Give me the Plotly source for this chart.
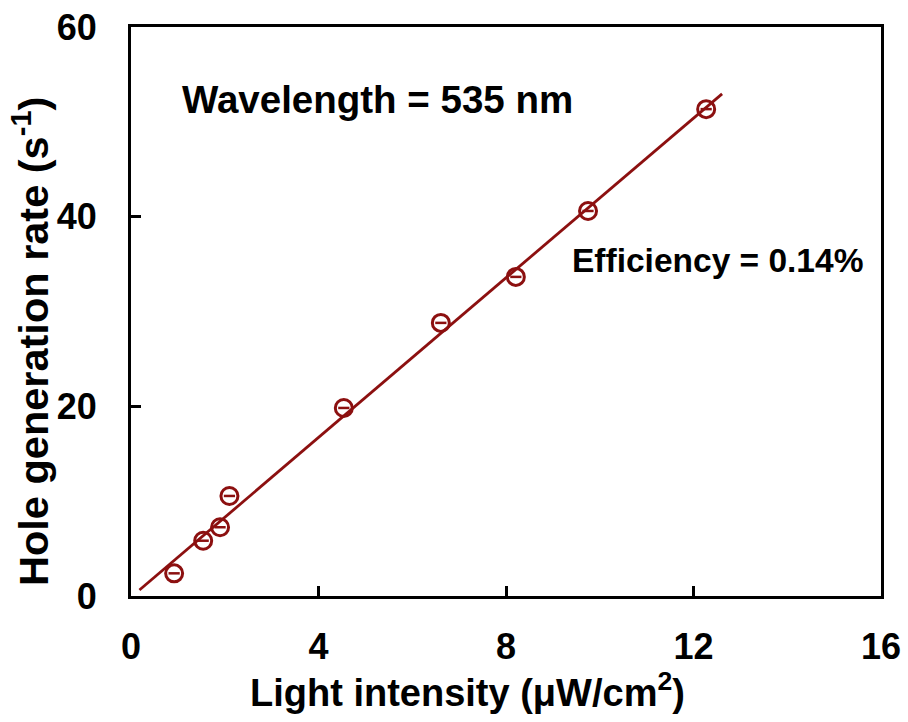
import numpy as np
import plotly.graph_objects as go

# Data
light_intensity = [0.92, 1.54, 1.90, 2.10, 4.54, 6.61, 8.21, 9.75, 12.27]
hole_rate = [2.39, 5.83, 7.25, 10.55, 19.83, 28.80, 33.65, 40.60, 51.34]
fit_x_range = [0.18, 12.61]
x_ticks = [0, 4, 8, 12, 16]
y_ticks = [0, 20, 40, 60]

slope, intercept = np.polyfit(light_intensity, hole_rate, 1)
fit_x = np.array(fit_x_range)
fit_y = slope * fit_x + intercept

RED = "#8C1010"
FONT = "Liberation Sans, Arial, sans-serif"

fig = go.Figure()
fig.add_trace(go.Scatter(x=fit_x, y=fit_y, mode="lines",
                         line=dict(color=RED, width=2.8), showlegend=False))
fig.add_trace(go.Scatter(x=light_intensity, y=hole_rate, mode="markers",
                         marker=dict(symbol="circle-open", size=17, color=RED,
                                     line=dict(width=3, color=RED)),
                         showlegend=False))
fig.add_trace(go.Scatter(x=light_intensity, y=hole_rate, mode="markers",
                         marker=dict(symbol="line-ew", size=8, color=RED,
                                     line=dict(width=2.5, color=RED)),
                         showlegend=False))

axis_common = dict(showline=True, linecolor="black", linewidth=3, mirror=True,
                   ticks="inside", ticklen=10, tickwidth=2.5, tickcolor="black",
                   showgrid=False, zeroline=False, automargin=False,
                   tickfont=dict(family=FONT, size=36, color="black", weight="bold"))

L, R, T, B = 131, 27, 27, 126
W, H = 908, 722
pw, ph = W - L - R, H - T - B

fig.update_layout(
    width=W, height=H,
    margin=dict(l=L, r=R, t=T, b=B),
    paper_bgcolor="white", plot_bgcolor="white",
    font=dict(family=FONT, color="black"),
    xaxis=dict(range=[0, 16], tickvals=x_ticks, ticklabelstandoff=17, **axis_common),
    yaxis=dict(range=[0, 60], tickvals=y_ticks, ticklabelstandoff=24, **axis_common),
    annotations=[
        dict(text="<b>Light intensity (μW/cm<sup>2</sup>)</b>", x=(467 - L) / pw,
             y=(H - B - 690) / ph, xref="paper", yref="paper",
             xanchor="center", yanchor="middle", showarrow=False,
             font=dict(family=FONT, size=38, color="black")),
        dict(text="<b>Hole generation rate (s<sup>-1</sup>)</b>", x=(31 - L) / pw,
             y=(H - B - 342) / ph, xref="paper", yref="paper", textangle=-90,
             xanchor="center", yanchor="middle", showarrow=False,
             font=dict(family=FONT, size=41.5, color="black")),
        dict(text="<b>Wavelength = 535 nm</b>", x=(180 - L) / pw, y=(H - B - 100) / ph,
             xref="x domain", yref="y domain", xanchor="left", yanchor="middle",
             showarrow=False, font=dict(family=FONT, size=38.5, color="black")),
        dict(text="<b>Efficiency = 0.14%</b>", x=(570 - L) / pw, y=(H - B - 260) / ph,
             xref="x domain", yref="y domain", xanchor="left", yanchor="middle",
             showarrow=False, font=dict(family=FONT, size=33.5, color="black")),
    ],
)

fig.write_html("out.html", config={"displayModeBar": False},
               post_script="document.body.style.margin='0';")
